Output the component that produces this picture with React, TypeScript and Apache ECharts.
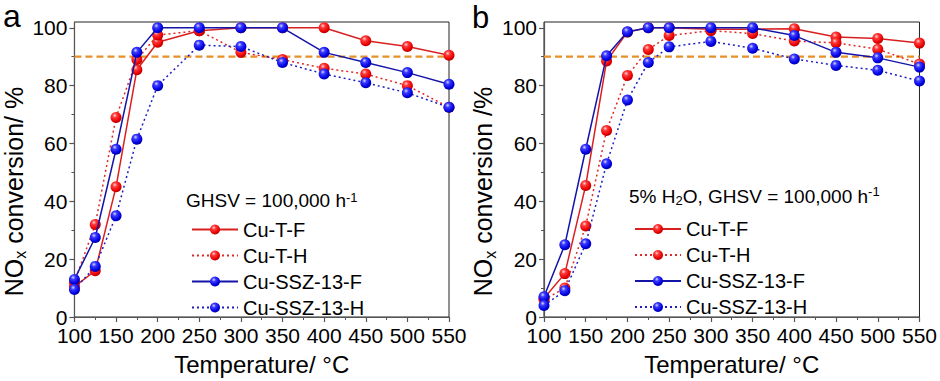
import React, { useEffect, useRef } from 'react';
import * as echarts from 'echarts';

// ---------- data ----------
const tempsA = [100, 125, 150, 175, 200, 250, 300, 350, 400, 450, 500, 550];
const cuTF_A = [10.5, 16, 45, 85.5, 95, 99, 100, 100, 100, 95.5, 93.5, 90.5];
const cuTH_A = [12, 32, 69, 89, 97.5, 99, 91.5, 89, 86, 84, 80, 72.5];
const sszF_A = [13, 27.5, 58, 91.5, 100, 100, 100, 100, 91.5, 88, 84.5, 80.5];
const sszH_A = [9.5, 17.5, 35, 61.5, 80, 94, 93.5, 88, 84, 81, 77.5, 72.5];

const tempsB = [100, 125, 150, 175, 200, 225, 250, 300, 350, 400, 450, 500, 550];
const cuTF_B = [6.5, 15, 45.5, 88.5, 98.5, 100, 100, 99.5, 99.5, 99.7, 96.8, 96.3, 94.7];
const cuTH_B = [6, 10, 31.5, 64.5, 83.5, 92.5, 97.3, 99, 98, 95.4, 94.8, 92.6, 87.5];
const sszF_B = [7, 25, 58, 90.3, 98.6, 100, 100, 100, 100, 97.3, 91.5, 89.6, 86.4];
const sszH_B = [4, 9.1, 25.3, 53, 75, 88, 93.4, 95.3, 92.9, 89.2, 87, 85.3, 81.6];

const seriesNames = ['Cu-T-F', 'Cu-T-H', 'Cu-SSZ-13-F', 'Cu-SSZ-13-H'];
const targetLevel = 90;
const xTickMin = 100;
const xTickMax = 550;
const xTickStep = 50;
const yMajorTicks = [0, 20, 40, 60, 80, 100];
const yMinorTicks = [10, 30, 50, 70, 90];
const yMax = 102;

// ---------- styles ----------
const FONT = '"Liberation Sans", Arial, Helvetica, sans-serif';
const AXIS_COLOR = '#555';

const redBall = {
  type: 'radial', x: 0.38, y: 0.32, r: 0.72,
  colorStops: [
    { offset: 0, color: '#ffd6d6' },
    { offset: 0.28, color: '#ff3a3a' },
    { offset: 0.75, color: '#e80000' },
    { offset: 1, color: '#a80000' },
  ],
};
const blueBall = {
  type: 'radial', x: 0.38, y: 0.32, r: 0.72,
  colorStops: [
    { offset: 0, color: '#d6d6ff' },
    { offset: 0.28, color: '#3a3aff' },
    { offset: 0.75, color: '#0000e0' },
    { offset: 1, color: '#00009a' },
  ],
};

const styleDefs = [
  { ball: redBall, line: '#d92020', dash: 'solid' as any },
  { ball: redBall, line: '#e02828', dash: [2, 3] as any },
  { ball: blueBall, line: '#1414a8', dash: 'solid' as any },
  { ball: blueBall, line: '#1e1ec0', dash: [2, 3] as any },
];

function makeSeries(panel: number, temps: number[], sets: number[][]) {
  const out: any[] = [];
  out.push({
    type: 'line',
    name: 'target',
    xAxisIndex: panel,
    yAxisIndex: panel * 2,
    data: [[xTickMin, targetLevel], [xTickMax, targetLevel]],
    symbol: 'none',
    silent: true,
    z: 1,
    lineStyle: { color: '#E8902A', width: 2.2, type: [7, 4] },
  });
  sets.forEach((vals, i) => {
    const s = styleDefs[i];
    out.push({
      type: 'line',
      name: seriesNames[i],
      xAxisIndex: panel,
      yAxisIndex: panel * 2,
      data: temps.map((t, k) => [t, vals[k]]),
      symbol: 'circle',
      symbolSize: 11,
      clip: false,
      z: 2 + i,
      itemStyle: { color: s.ball, borderWidth: 0 },
      lineStyle: { color: s.line, width: 1.5, type: s.dash },
    });
  });
  return out;
}

function makeX(panel: number) {
  return {
    type: 'value',
    gridIndex: panel,
    min: xTickMin,
    max: xTickMax,
    interval: xTickStep,
    axisLine: { show: true, onZero: false, lineStyle: { color: AXIS_COLOR, width: 1.2 } },
    axisTick: { show: true, inside: false, length: 5, lineStyle: { color: AXIS_COLOR, width: 1.2 } },
    minorTick: { show: true, splitNumber: 2, length: 3, lineStyle: { color: AXIS_COLOR, width: 1 } },
    splitLine: { show: false },
    minorSplitLine: { show: false },
    axisLabel: { fontSize: 21, color: '#000', margin: 8, fontFamily: FONT },
    name: 'Temperature/ °C',
    nameLocation: 'middle',
    nameGap: 35,
    nameTextStyle: { fontSize: 24, color: '#000', fontFamily: FONT },
  };
}

function makeY(panel: number, label: string) {
  return [
    {
      type: 'value',
      gridIndex: panel,
      position: 'left',
      min: 0,
      max: yMax,
      axisLine: { show: true, onZero: false, lineStyle: { color: AXIS_COLOR, width: 1.2 } },
      axisTick: { show: true, inside: false, length: 5, customValues: yMajorTicks, lineStyle: { color: AXIS_COLOR, width: 1.2 } },
      axisLabel: { customValues: yMajorTicks, fontSize: 21, color: '#000', margin: 7, fontFamily: FONT },
      splitLine: { show: false },
      name: label,
      nameLocation: 'middle',
      nameGap: 36,
      nameRotate: 90,
      nameTextStyle: {
        color: '#000',
        fontFamily: FONT,
        fontSize: 25,
        padding: [0, 44, 0, 0],
        rich: {
          n: { fontSize: 25, fontFamily: FONT, color: '#000' },
          s: { fontSize: 16, fontFamily: FONT, color: '#000', verticalAlign: 'bottom', padding: [14, 0, 0, 0] },
        },
      },
    },
    {
      type: 'value',
      gridIndex: panel,
      position: 'left',
      min: 0,
      max: yMax,
      axisLine: { show: false },
      axisTick: { show: true, inside: false, length: 3, customValues: yMinorTicks, lineStyle: { color: AXIS_COLOR, width: 1 } },
      axisLabel: { show: false },
      splitLine: { show: false },
    },
  ];
}

function makeLegend(left: number, top: number) {
  return {
    orient: 'vertical',
    left,
    top,
    itemWidth: 46,
    itemHeight: 12.5,
    itemGap: 6,
    data: seriesNames,
    selectedMode: false,
    textStyle: { fontSize: 20, color: '#000', fontFamily: FONT },
  };
}

const titleRich = {
  t: { fontSize: 19, fontFamily: FONT, fill: '#000' },
  sup: { fontSize: 13, fontFamily: FONT, fill: '#000', verticalAlign: 'top' },
  sub: { fontSize: 13, fontFamily: FONT, fill: '#000', verticalAlign: 'bottom', padding: [9, 0, 0, 0] },
};

const option: any = {
  animation: false,
  backgroundColor: '#fff',
  textStyle: { fontFamily: FONT },
  grid: [
    { left: 72.7, top: 22, width: 376.3, height: 303, show: true, borderColor: '#222', borderWidth: 1, backgroundColor: 'transparent' },
    { left: 544, top: 22, width: 375.7, height: 303, show: true, borderColor: '#222', borderWidth: 1, backgroundColor: 'transparent' },
  ],
  xAxis: [makeX(0), makeX(1)],
  yAxis: [...makeY(0, '{n|NO}{s|x}{n| conversion/ %}'), ...makeY(1, '{n|NO}{s|x}{n| conversion /%}')],
  legend: [makeLegend(186, 214.5), makeLegend(629, 214)],
  series: [
    ...makeSeries(0, tempsA, [cuTF_A, cuTH_A, sszF_A, sszH_A]),
    ...makeSeries(1, tempsB, [cuTF_B, cuTH_B, sszF_B, sszH_B]),
  ],
  graphic: [
    { type: 'text', x: 3, y: 16, style: { text: 'a', fontSize: 32, lineHeight: 26, fontFamily: FONT, fill: '#000', verticalAlign: 'middle' } },
    { type: 'text', x: 472, y: 17, style: { text: 'b', fontSize: 31, lineHeight: 28, fontFamily: FONT, fill: '#000', verticalAlign: 'middle' } },
    { type: 'text', x: 186, y: 200, style: { text: '{t|GHSV = 100,000 h}{sup|-1}', rich: titleRich, verticalAlign: 'middle' } },
    { type: 'text', x: 629, y: 196, style: { text: '{t|5% H}{sub|2}{t|O, GHSV = 100,000 h}{sup|-1}', rich: titleRich, verticalAlign: 'middle' } },
  ],
};

export default function App() {
  const ref = useRef<HTMLDivElement>(null);
  useEffect(() => {
    const chart = echarts.init(ref.current!, null, { renderer: 'svg' });
    chart.setOption(option);
    return () => chart.dispose();
  }, []);
  return (
    <div
      ref={ref}
      style={{ position: 'fixed', left: 0, top: 0, width: 940, height: 381, background: '#fff' }}
    />
  );
}
